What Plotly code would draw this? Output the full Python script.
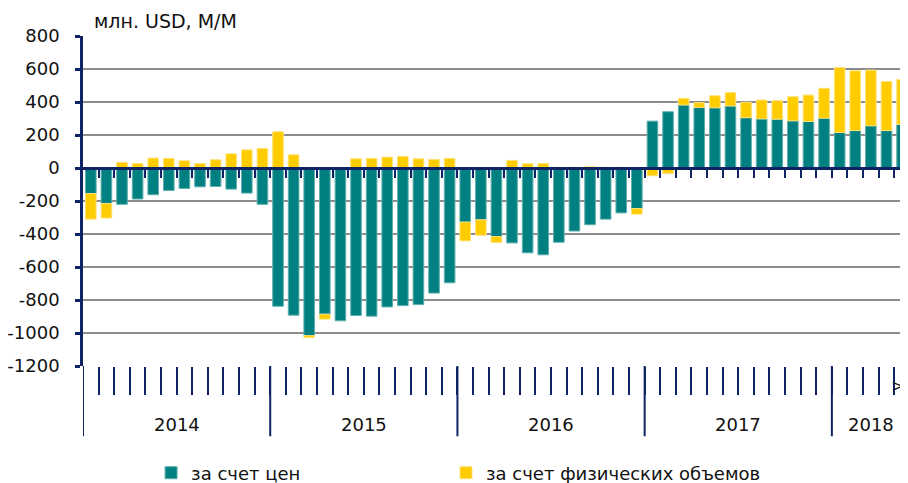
import plotly.graph_objects as go

years = ["2014", "2015", "2016", "2017", "2018"]
months_per_year = [12, 12, 12, 12, 5]

price = [
    -155, -215, -220, -188, -162, -136, -124, -114, -112, -128, -152, -220,
    -838, -892, -1016, -886, -926, -894, -898, -842, -834, -828, -758, -696,
    -328, -314, -416, -454, -514, -526, -450, -382, -344, -310, -272, -246,
    284, 341, 382, 367, 365, 376, 305, 298, 296, 286, 282, 302,
    215, 227, 256, 227, 264,
]
volume = [
    -155, -88, 34, 28, 60, 58, 44, 28, 50, 86, 110, 118,
    220, 80, -12, -30, 0, 56, 58, 66, 70, 56, 52, 58,
    -114, -94, -36, 46, 26, 28, 4, 4, 8, 4, 4, -34,
    -47, -32, 40, 29, 73, 81, 93, 114, 112, 146, 160, 181,
    394, 362, 337, 297, 273,
]
series_names = ["за счет цен", "за счет физических объемов"]
y_title = "млн. USD, М/М"
y_ticks = [-1200, -1000, -800, -600, -400, -200, 0, 200, 400, 600, 800]
last_month_label = "V"

n = len(price)
idx = list(range(n))
TEAL = "#008080"
YELLOW = "#FFCC00"
NAVY = "#0F2464"
GRID = "#8C8C8C"
FONT = "DejaVu Sans"
TXT = "#111111"
y_range = [-1200, 800]
x_range = [-0.5, 52.38]

fig = go.Figure()
fig.add_trace(go.Bar(x=idx, y=price, name=series_names[0], legend="legend",
                     marker=dict(color=TEAL, line=dict(color="#5FAFAF", width=1))))
fig.add_trace(go.Bar(x=idx, y=volume, name=series_names[1], legend="legend2",
                     marker=dict(color=YELLOW, line=dict(color="#FFE27A", width=1))))
# helper trace so the zero-level axis is rendered
fig.add_trace(go.Scatter(x=[0], y=[0], xaxis="x2", mode="markers",
                         marker=dict(opacity=0), showlegend=False, hoverinfo="skip"))

boundaries = [i + 0.5 for i in range(n - 1)]
zero_pos = (0 - y_range[0]) / (y_range[1] - y_range[0])

starts = []
s = 0
for m in months_per_year:
    starts.append(s)
    s += m

shapes = []
annotations = []
for yr, st, m in zip(years, starts, months_per_year):
    shapes.append(dict(type="line", xref="x", yref="paper", x0=st - 0.5, x1=st - 0.5,
                       y0=0, y1=-0.213, line=dict(color=NAVY, width=2)))
    annotations.append(dict(xref="x", yref="paper", x=st + (m - 1) / 2, y=-0.177,
                            text=yr, showarrow=False, yanchor="middle",
                            font=dict(family=FONT, size=18, color=TXT)))
annotations.append(dict(xref="paper", yref="paper", x=0.011, y=1.045, xanchor="left",
                        yanchor="middle", text=y_title, showarrow=False,
                        font=dict(family=FONT, size=19, color=TXT)))
annotations.append(dict(xref="x", yref="paper", x=n - 1.3, y=-0.062, text=last_month_label,
                        textangle=-90, showarrow=False, yanchor="middle",
                        font=dict(family=FONT, size=13, color=TXT)))

legend_common = dict(orientation="h", yref="container", y=0.021, xanchor="left",
                     yanchor="middle", font=dict(family=FONT, size=18, color=TXT),
                     bgcolor="rgba(0,0,0,0)")

fig.update_layout(
    template="none",
    width=900, height=475,
    margin=dict(l=75, r=0, t=28, b=117),
    paper_bgcolor="white", plot_bgcolor="white",
    barmode="relative", bargap=0.32,
    font=dict(family=FONT, size=18, color=TXT),
    showlegend=True,
    legend=dict(x=0.0825, **legend_common),
    legend2=dict(x=0.44, **legend_common),
    xaxis=dict(range=x_range, showgrid=False, zeroline=False, showline=False, automargin=False,
               tickmode="array", tickvals=boundaries, ticks="outside", ticklen=28,
               tickwidth=2, tickcolor=NAVY, showticklabels=False),
    xaxis2=dict(overlaying="x", anchor="free", position=zero_pos, range=x_range,
                automargin=False,
                showgrid=False, zeroline=False, showline=True, linecolor=NAVY, linewidth=2.5,
                tickmode="array", tickvals=boundaries, ticks="outside", ticklen=8,
                tickwidth=2, tickcolor=NAVY, showticklabels=False, layer="above traces"),
    yaxis=dict(range=y_range, tickmode="array", tickvals=y_ticks,
               ticktext=[str(v) for v in y_ticks], automargin=False,
               showgrid=True, gridcolor=GRID, gridwidth=2,
               zeroline=False, showline=True, linecolor=NAVY, linewidth=2.5,
               ticks="outside", ticklen=5, tickwidth=2.5, tickcolor=NAVY,
               ticklabelstandoff=12, tickfont=dict(family=FONT, size=18, color=TXT)),
    shapes=shapes,
    annotations=annotations,
)

fig.write_html("out.html")
